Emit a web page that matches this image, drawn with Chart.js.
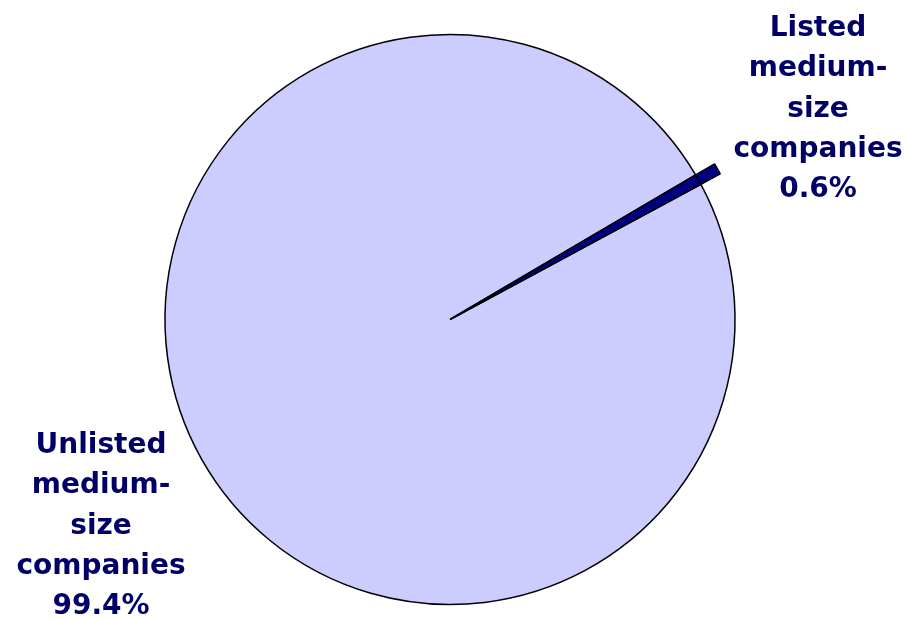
<!DOCTYPE html>
<html>
<head>
<meta charset="utf-8">
<script src="https://cdn.jsdelivr.net/npm/chart.js@4"></script>
<style>
  html, body { margin: 0; padding: 0; background: #ffffff; overflow: hidden; }
  #wrap { width: 910px; height: 620px; position: relative; }
</style>
</head>
<body>
<div id="wrap"><canvas id="c" width="910" height="620"></canvas></div>
<script>
// ---- data ----
const categories = ["Unlisted medium-size companies", "Listed medium-size companies"];
const shares = [99.4, 0.6];
const labelLinesUnlisted = ["Unlisted", "medium-", "size", "companies", "99.4%"];
const labelLinesListed = ["Listed", "medium-", "size", "companies", "0.6%"];

const fillColors = ["#CCCCFF", "#000080"];

const labelPlugin = {
  id: 'sliceLabels',
  afterDraw(chart) {
    const ctx = chart.ctx;
    ctx.save();
    ctx.font = "bold 28px 'DejaVu Sans'";
    ctx.fillStyle = "#000066";
    ctx.textAlign = "center";
    ctx.textBaseline = "alphabetic";
    const groups = [
      { lines: labelLinesListed, x: 818, y0: 36 },
      { lines: labelLinesUnlisted, x: 101, y0: 453 }
    ];
    groups.forEach(g => {
      g.lines.forEach((t, i) => ctx.fillText(t, g.x, g.y0 + i * 40.3));
    });
    ctx.restore();
  }
};

new Chart(document.getElementById('c'), {
  type: 'pie',
  data: {
    labels: categories,
    datasets: [
      {
        // outer extension of the pulled-out small slice
        data: shares,
        backgroundColor: ["rgba(0,0,0,0)", fillColors[1]],
        borderColor: ["rgba(0,0,0,0)", "#000000"],
        borderWidth: [0, 1.5],
        weight: 22,
        clip: false
      },
      {
        data: shares,
        backgroundColor: fillColors,
        borderColor: "#000000",
        borderWidth: 1.5,
        weight: 285,
        clip: false
      }
    ]
  },
  options: {
    responsive: false,
    animation: false,
    events: [],
    radius: 307,
    rotation: 61.68,
    layout: { padding: { left: 0, right: 10, top: 19, bottom: 0 } },
    plugins: {
      legend: { display: false },
      tooltip: { enabled: false }
    }
  },
  plugins: [labelPlugin]
});
</script>
</body>
</html>
